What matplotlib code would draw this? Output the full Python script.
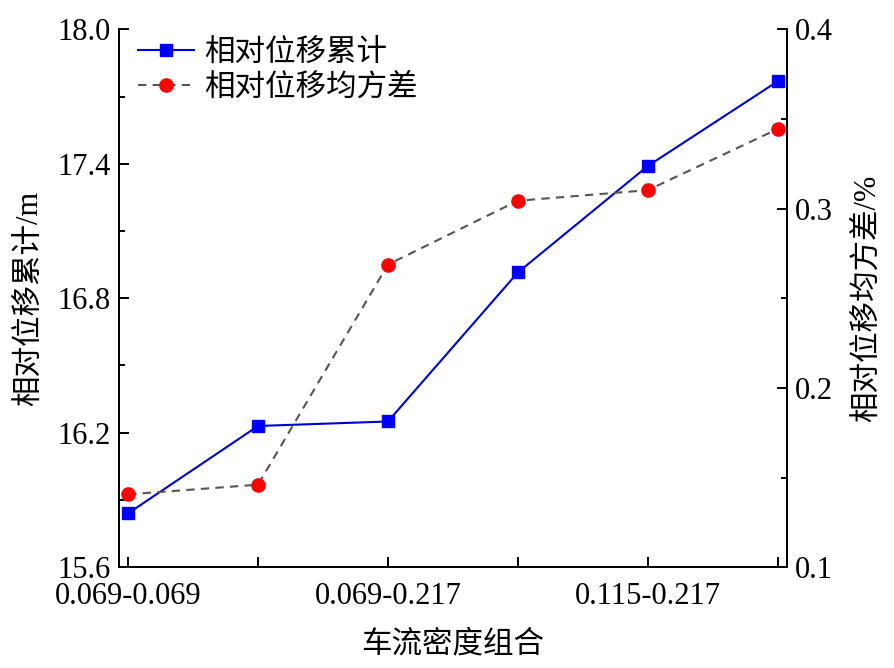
import matplotlib
matplotlib.use("Agg")
import matplotlib.pyplot as plt
from matplotlib.ticker import MultipleLocator

plt.rcParams['font.family'] = ['Liberation Serif', 'Noto Sans CJK SC']
plt.rcParams['font.size'] = 22
plt.rcParams['axes.unicode_minus'] = False

# traffic density combinations (x categories)
categories = ["0.069-0.069", "0.069-0.115", "0.069-0.217",
              "0.115-0.115", "0.115-0.217", "0.217-0.217"]
# cumulative relative displacement (m), left axis
disp_sum = [15.84, 16.23, 16.25, 16.915, 17.39, 17.768]
# relative displacement mean square deviation (%), right axis
disp_msd = [0.1406, 0.146, 0.2688, 0.3044, 0.3103, 0.3444]

x = list(range(len(categories)))

fig = plt.figure(figsize=(8.95, 6.68), dpi=100)
ax = fig.add_axes([0.133, 0.151, 0.746, 0.805])
ax2 = ax.twinx()

l1, = ax.plot(x, disp_sum, color='#0000CD', lw=1.5, marker='s', ms=8.5,
              mfc='#0000FF', mec='#0000FF', label='相对位移累计')
l2, = ax2.plot(x, disp_msd, color='#555555', lw=1.5, ls=(0, (4, 3)), marker='o',
               ms=9.5, mfc='#FF0000', mec='#FF0000', label='相对位移均方差')

ax.set_xlim(-0.07, 5.07)
ax.set_ylim(15.6, 18.0)
ax2.set_ylim(0.1, 0.4)

ax.set_xticks(x)
ax.set_xticklabels([c if i % 2 == 0 else '' for i, c in enumerate(categories)])
ax.yaxis.set_major_locator(MultipleLocator(0.6))
ax.yaxis.set_minor_locator(MultipleLocator(0.3))
ax.yaxis.set_major_formatter(plt.FormatStrFormatter('%.1f'))
ax2.yaxis.set_major_locator(MultipleLocator(0.1))
ax2.yaxis.set_minor_locator(MultipleLocator(0.05))
ax2.yaxis.set_major_formatter(plt.FormatStrFormatter('%.1f'))

for a in (ax, ax2):
    a.spines['top'].set_visible(False)
    for s in a.spines.values():
        s.set_linewidth(1.4)
    a.tick_params(which='major', direction='in', length=7.5, width=1.4, pad=6)
    a.tick_params(which='minor', direction='in', length=4, width=1.4)

ax.tick_params(axis='x', which='minor', bottom=False)
ax.tick_params(axis='x', which='major', pad=11)

ax.set_xlabel('车流密度组合', labelpad=14)
ax.set_ylabel('相对位移累计/m', labelpad=10)
ax2.set_ylabel('相对位移均方差/%', labelpad=14)

ax2.legend(handles=[l1, l2], loc='upper left', frameon=False,
           handlelength=1.85, handletextpad=0.3, labelspacing=0.2,
           borderaxespad=0.0, bbox_to_anchor=(0.01, 1.006))

fig.savefig('out.png', dpi=100)
